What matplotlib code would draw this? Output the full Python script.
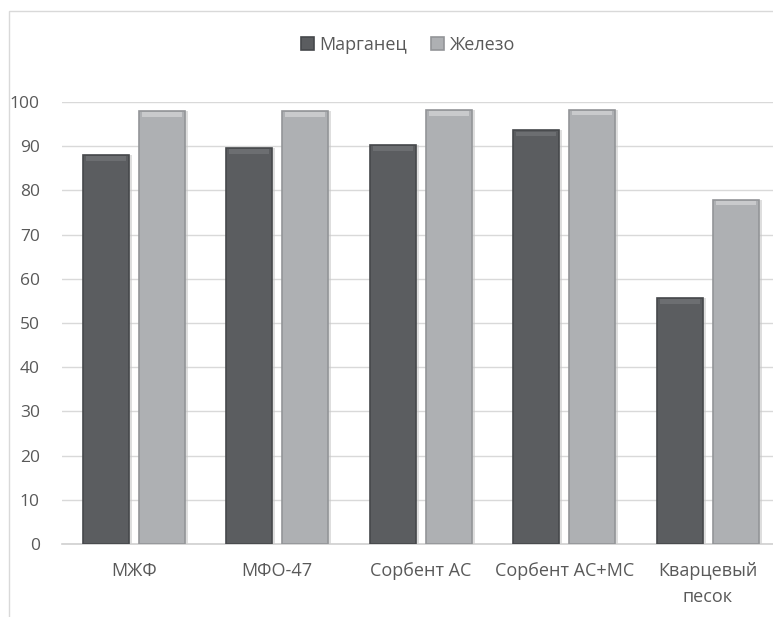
import numpy as np
import matplotlib.pyplot as plt
from matplotlib.patches import Rectangle

# data
categories = ["МЖФ", "МФО-47", "Сорбент АС", "Сорбент АС+МС", "Кварцевый\nпесок"]
mn_vals = [88.0, 89.6, 90.3, 93.6, 55.7]   # Марганец
fe_vals = [98.0, 98.0, 98.2, 98.3, 77.9]   # Железо
yticks = [0, 10, 20, 30, 40, 50, 60, 70, 80, 90, 100]

plt.rcParams['font.family'] = ['Open Sans', 'DejaVu Sans']
txt = '#595959'

fig = plt.figure(figsize=(7.73, 6.17), dpi=100)
W, H = 773, 617
ax = fig.add_axes([62 / W, 1 - 544 / H, 1 - 62 / W, (544 - 102) / H])

# outer chart border (cropped on right/bottom)
fig.patches.append(Rectangle((9 / W, -0.1), 1.2, 1.1 - 11 / H, transform=fig.transFigure,
                             fill=False, edgecolor='#d9d9d9', linewidth=1.0))

x = np.arange(len(categories))
w = 0.32
off = 0.195

# shadows
ax.bar(x - off + 0.02, mn_vals, w, color='#c8c8c8', alpha=0.6, zorder=2)
ax.bar(x + off + 0.02, fe_vals, w, color='#c8c8c8', alpha=0.6, zorder=2)

b1 = ax.bar(x - off, mn_vals, w, color='#5b5d60', edgecolor='#46484b', linewidth=1.2,
            label='Марганец', zorder=3)
b2 = ax.bar(x + off, fe_vals, w, color='#aeb0b3', edgecolor='#939598', linewidth=1.2,
            label='Железо', zorder=3)

# soft highlight on top of bars
for bars, hc in ((b1, '#6c6e71'), (b2, '#c9cacc')):
    for r in bars:
        ax.add_patch(Rectangle((r.get_x() + 0.02, r.get_height() - 1.3), r.get_width() - 0.04, 1.0,
                               color=hc, linewidth=0, zorder=4))

ax.set_xlim(-0.5, -0.5 + (W - 62) / 143.5)
ax.set_ylim(0, 100)
ax.set_yticks(yticks)
ax.set_xticks(x)
ax.set_xticklabels(categories, fontsize=13, color=txt, linespacing=1.6)
ax.tick_params(axis='y', labelsize=12.5, labelcolor=txt, length=0, pad=16)
ax.tick_params(axis='x', length=0, pad=13)
ax.grid(axis='y', color='#d9d9d9', linewidth=1.0, zorder=0)
ax.set_axisbelow(True)
for s in ('top', 'right', 'left'):
    ax.spines[s].set_visible(False)
ax.spines['bottom'].set_color('#d0d0d0')
ax.spines['bottom'].set_linewidth(1.2)

fig.legend(handles=[b1, b2], loc='center', bbox_to_anchor=(408 / W, 1 - 45 / H), ncol=2,
           frameon=False, fontsize=13, labelcolor=txt, handlelength=0.75, handleheight=0.75,
           handletextpad=0.3, columnspacing=1.3)

fig.savefig('out.png', dpi=100)
